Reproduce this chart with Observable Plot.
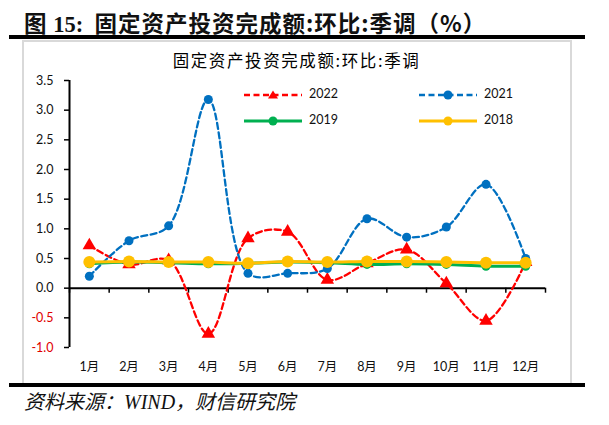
<!DOCTYPE html>
<html><head><meta charset="utf-8">
<script src="https://cdn.jsdelivr.net/npm/d3@7"></script>
<script src="https://cdn.jsdelivr.net/npm/@observablehq/plot@0.6"></script>
<style>
body{margin:0;background:#fff;}
#wrap{position:relative;width:609px;height:425px;overflow:hidden;background:#fff;font-family:"Noto Sans CJK SC",sans-serif;}
#title{position:absolute;left:24px;top:10px;line-height:24px;font-size:22.5px;font-weight:bold;color:#111;white-space:nowrap;font-family:"Liberation Serif","Noto Sans CJK SC",serif;}
#title .cjk{font-family:"Noto Sans CJK SC",sans-serif;letter-spacing:1px;}
.hr{position:absolute;left:9px;width:576px;height:3.5px;background:#000;}
#box{position:absolute;left:22px;top:40px;width:546px;height:341px;border:2px solid #d9d9d9;box-sizing:content-box;}
#sub{position:absolute;left:0;width:593px;top:50px;line-height:20px;text-align:center;font-size:16.5px;letter-spacing:1.6px;color:#000;}
#caption{position:absolute;left:24px;top:391px;line-height:22px;font-size:20px;font-style:italic;color:#111;font-family:"Liberation Serif","Noto Sans CJK SC",serif;white-space:nowrap;}
#plot{position:absolute;left:0;top:0;}
.leg{position:absolute;font-size:12.5px;font-family:Lato,"Noto Sans",sans-serif;color:#111;}
</style></head>
<body>
<div id="wrap">
  <div id="title"><span class="cjk">图</span> 15:&nbsp;&nbsp;<span class="cjk">固定资产投资完成额:环比:季调（%）</span></div>
  <div class="hr" style="top:35px"></div>
  <div id="box"></div>
  <div id="sub">固定资产投资完成额:环比:季调</div>
  <div id="plot"></div>
  <div id="legend"></div>
  <div class="hr" style="top:383px"></div>
  <div id="caption">资料来源：WIND，财信研究院</div>
</div>
<script>
const months = [1,2,3,4,5,6,7,8,9,10,11,12];
const monthLabels = ["1月","2月","3月","4月","5月","6月","7月","8月","9月","10月","11月","12月"];
const yTicks = [-1.0,-0.5,0.0,0.5,1.0,1.5,2.0,2.5,3.0,3.5];
const v2022 = [0.72,0.40,0.47,-0.77,0.84,0.95,0.14,0.42,0.65,0.08,-0.55,0.44];
const v2021 = [0.20,0.80,1.05,3.18,0.25,0.25,0.33,1.17,0.86,1.03,1.75,0.50];
const v2019 = [0.41,0.44,0.43,0.41,0.42,0.44,0.43,0.40,0.41,0.40,0.37,0.37];
const v2018 = [0.44,0.45,0.44,0.44,0.42,0.45,0.44,0.45,0.45,0.44,0.43,0.43];

const series = [
  {name:"2022", values:v2022, color:"#FF0000", dash:"6,3.5", symbol:"triangle", r:5, width:2.3},
  {name:"2021", values:v2021, color:"#0070C0", dash:"6,3.5", symbol:"circle", r:4.5, width:2.3},
  {name:"2019", values:v2019, color:"#00B050", dash:null, symbol:"circle", r:4.5, width:3},
  {name:"2018", values:v2018, color:"#FFC000", dash:null, symbol:"circle", r:6, width:3}
];
const rows = series.map(s => s.values.map((v,i)=>({month:months[i], value:v, series:s.name})));
const bounds = d3.range(0.5, 13, 1);

const marks = [
  Plot.ruleY([0], {stroke:"#000", strokeWidth:2}),
  Plot.ruleX(bounds, {x:d=>d, y1:0, y2:-0.085, stroke:"#000", strokeWidth:1.5}),
  Plot.ruleX([0.5], {stroke:"#000", strokeWidth:2}),
  Plot.axisY({ticks:yTicks.filter(d=>d>=0), tickFormat:d=>d.toFixed(1), tickSize:5, tickPadding:11, fill:"#111", stroke:"#000", strokeWidth:1.5, fontSize:12.5, fontFamily:"Lato, 'Noto Sans', sans-serif", label:null}),
  Plot.axisY({ticks:yTicks.filter(d=>d<0), tickFormat:d=>d.toFixed(1), tickSize:5, tickPadding:11, fill:"#E00000", stroke:"#000", strokeWidth:1.5, fontSize:12.5, fontFamily:"Lato, 'Noto Sans', sans-serif", label:null}),
  Plot.axisX({ticks:months, tickFormat:d=>monthLabels[d-1], tickSize:0, tickPadding:15, fill:"#111", fontSize:12.5, fontFamily:"Lato, 'Noto Sans CJK SC', sans-serif", label:null})
];
series.forEach((s,k)=>{
  marks.push(Plot.line(rows[k], {x:"month", y:"value", stroke:s.color, strokeWidth:s.width, strokeDasharray:s.dash || undefined, curve:"catmull-rom"}));
  marks.push(Plot.dot(rows[k], {x:"month", y:"value", fill:s.color, stroke:"none", r:s.r, symbol:s.symbol}));
});

const chart = Plot.plot({
  width:609, height:425,
  marginLeft:69, marginRight:64, marginTop:80, marginBottom:78,
  x:{type:"linear", domain:[0.5,12.5]},
  y:{type:"linear", domain:[-1,3.5]},
  style:{background:"transparent", overflow:"visible"},
  marks
});
document.getElementById("plot").appendChild(chart);

// legend
const legPos = [
  {x:244, y:95}, {x:419, y:95}, {x:244, y:121}, {x:419, y:121}
];
const legend = document.getElementById("legend");
series.forEach((s,k)=>{
  const p = legPos[k];
  const sym = s.symbol === "triangle"
    ? `<path d="M29,3.5 L34,11.5 L24,11.5 Z" fill="${s.color}"/>`
    : `<circle cx="29" cy="8" r="${Math.min(s.r,4.5)}" fill="${s.color}"/>`;
  const svg = `<svg width="60" height="16" style="position:absolute;left:${p.x}px;top:${p.y-8}px">
    <line x1="0" y1="8" x2="58" y2="8" stroke="${s.color}" stroke-width="${s.width}" ${s.dash?`stroke-dasharray="${s.dash}"`:""}/>${sym}</svg>`;
  legend.insertAdjacentHTML("beforeend", svg + `<div class="leg" style="left:${p.x+65}px;top:${p.y-9}px">${s.name}</div>`);
});
</script>
</body></html>
